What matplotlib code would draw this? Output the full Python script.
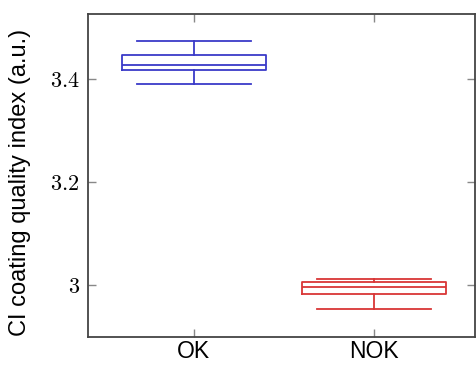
import matplotlib
matplotlib.use('Agg')
from matplotlib import pyplot as plt

plt.rcParams['font.family'] = ['Liberation Sans', 'DejaVu Sans']
plt.rcParams['mathtext.fontset'] = 'cm'

groups = ['OK', 'NOK']
colors = ['#3a3ac8', '#d93636']
whislo = [3.390, 2.953]
q1 = [3.419, 2.982]
med = [3.427, 2.997]
q3 = [3.447, 3.005]
whishi = [3.474, 3.012]
yticks = [3.0, 3.2, 3.4]
ytick_labels = ['$3$', '$3.2$', '$3.4$']

fig = plt.figure(figsize=(4.77, 3.65), dpi=100)
ax = fig.add_axes([0.1845, 0.077, 0.8115, 0.886])

stats = [dict(label=g, whislo=lo, q1=a, med=m, q3=b, whishi=hi, fliers=[])
         for g, lo, a, m, b, hi in zip(groups, whislo, q1, med, q3, whishi)]

for i, (s, c) in enumerate(zip(stats, colors)):
    ax.bxp([s], positions=[i + 1], widths=0.8, capwidths=0.635,
           showfliers=False,
           boxprops=dict(color=c, linewidth=1.3),
           medianprops=dict(color=c, linewidth=1.3),
           whiskerprops=dict(color=c, linewidth=1.3),
           capprops=dict(color=c, linewidth=1.3))

ax.set_xlim(0.413, 2.563)
ax.set_ylim(2.899, 3.528)
ax.set_xticks([1, 2])
ax.set_xticklabels(groups, fontsize=16.5)
ax.set_yticks(yticks)
ax.set_yticklabels(ytick_labels, fontsize=16)
ax.set_ylabel('CI coating quality index (a.u.)', fontsize=17)
ax.yaxis.set_label_coords(-0.147, 0.479)

ax.tick_params(direction='in', top=True, right=True, length=6,
               color='#888888', width=1.0)
ax.tick_params(axis='x', pad=2)
ax.tick_params(axis='y', pad=6)
for sp in ax.spines.values():
    sp.set_color('#444444')
    sp.set_linewidth(1.3)

fig.savefig('out.png', dpi=100)
